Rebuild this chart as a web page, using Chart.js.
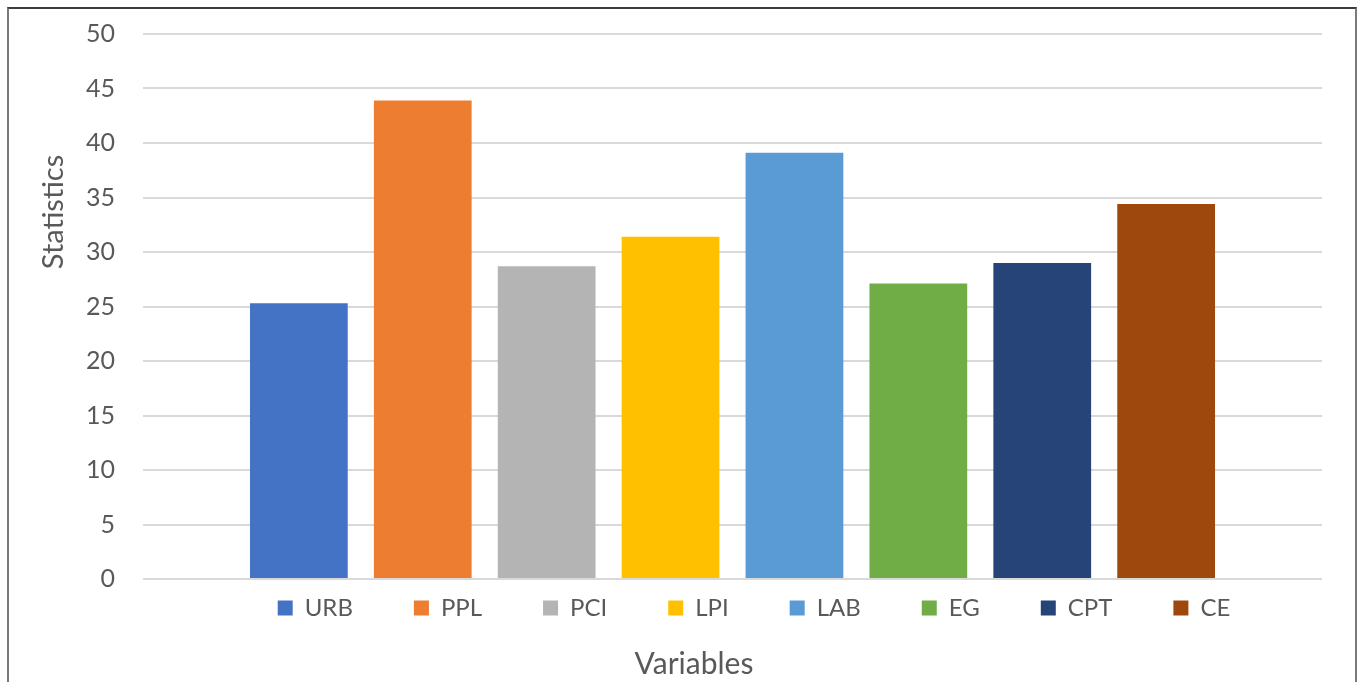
<!DOCTYPE html>
<html>
<head>
<meta charset="utf-8">
<script src="https://cdn.jsdelivr.net/npm/chart.js@4.4.1/dist/chart.umd.min.js"></script>
<style>
  html, body { margin: 0; padding: 0; background: #ffffff; }
  body { width: 1360px; height: 682px; position: relative; overflow: hidden; }
  #frame {
    position: absolute; left: 7px; top: 7px; width: 1346px; height: 700px;
    border: 2px solid #7a7a7a; border-top-color: #3c3c3c;
  }
  #wrap { position: absolute; left: 0; top: 0; width: 1360px; height: 682px; }
</style>
</head>
<body>
<div id="frame"></div>
<div id="wrap"><canvas id="chart" width="1360" height="682"></canvas></div>
<script>
// One group on the x axis, one bar per variable
const categories = [''];
const variables = ['URB', 'PPL', 'PCI', 'LPI', 'LAB', 'EG', 'CPT', 'CE'];
const statistics = [25.3, 43.9, 28.7, 31.4, 39.1, 27.1, 29.0, 34.4];
const seriesColors = ['#4472c4', '#ed7d31', '#b4b4b4', '#ffc000', '#5b9bd5', '#70ad47', '#264478', '#9e480e'];
const yTickValues = [0, 5, 10, 15, 20, 25, 30, 35, 40, 45, 50];

const textColor = '#595959';
Chart.defaults.font.family = 'Lato, "Open Sans", sans-serif';
Chart.defaults.color = textColor;

// After layout: put the legend row between the plot and the bottom title,
// centre the legend and title where wanted, and raise the y-axis title.
const boxPlacement = {
  id: 'boxPlacement',
  afterLayout(chart, args, opts) {
    const lg = chart.legend;
    if (lg) {
      const lo = lg.options.labels;
      const fs = Chart.helpers.toFont(lo.font).size;
      const itemH = Math.max(lo.boxHeight, fs);
      const dx = opts.legendCenterX - (lg.left + lg.right) / 2;
      lg.left += dx; lg.right += dx;
      lg.top = opts.legendMidY - itemH / 2 - lo.padding;
      lg.height = lg.bottom - lg.top;
    }
    const t = chart.titleBlock;
    if (t) {
      const dx = opts.titleCenterX - (t.left + t.right) / 2;
      t.left += dx; t.right += dx;
    }
    const ys = chart.scales.y;
    if (ys) {
      // the axis title is centred between the scale's top and bottom
      ys.bottom = 2 * opts.yTitleCenterY - ys.top;
      ys.height = ys.bottom - ys.top;
    }
  }
};

const datasets = variables.map((name, i) => ({
  label: name,
  data: [statistics[i]],
  backgroundColor: seriesColors[i],
  borderWidth: 0,
  clip: false,
  categoryPercentage: 0.8407,
  barPercentage: 0.789
}));

function draw() {
  new Chart(document.getElementById('chart'), {
    type: 'bar',
    data: { labels: categories, datasets },
    plugins: [boxPlacement],
    options: {
      responsive: false,
      animation: false,
      devicePixelRatio: 1,
      layout: { padding: { left: 20, right: 38, top: 34, bottom: 0 } },
      scales: {
        x: { display: false },
        y: {
          min: 0,
          max: 50,
          afterBuildTicks: (scale) => { scale.ticks = yTickValues.map(v => ({ value: v })); },
          afterFit: (scale) => { scale.width = 123; },
          ticks: { color: textColor, font: { size: 25 }, padding: 0 },
          grid: { color: '#d9d9d9', lineWidth: 2, drawTicks: true, tickLength: 28, tickColor: 'rgba(0,0,0,0)' },
          border: { display: false },
          title: {
            display: true,
            text: 'Statistics',
            color: textColor,
            font: { size: 29 },
            padding: { top: 16, bottom: 0 }
          }
        }
      },
      plugins: {
        legend: {
          position: 'bottom',
          maxHeight: 67,
          labels: {
            boxWidth: 15,
            boxHeight: 15,
            padding: 61,
            color: textColor,
            font: { size: 24 }
          }
        },
        title: {
          display: true,
          position: 'bottom',
          text: 'Variables',
          color: textColor,
          font: { size: 30, weight: 'normal' },
          padding: { top: 0, bottom: 0 }
        },
        tooltip: { enabled: false },
        boxPlacement: { legendCenterX: 754, legendMidY: 608, titleCenterX: 694, yTitleCenterY: 212 }
      }
    }
  });
}

if (document.fonts && document.fonts.load) {
  Promise.all([document.fonts.load('25px Lato'), document.fonts.load('30px Lato')]).then(draw, draw);
} else {
  draw();
}
</script>
</body>
</html>
